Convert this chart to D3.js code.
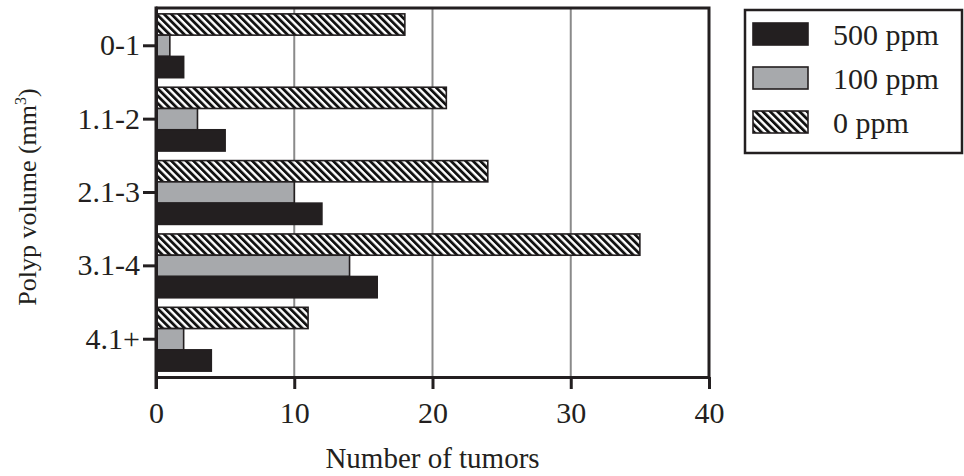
<!DOCTYPE html>
<html>
<head>
<meta charset="utf-8">
<script src="https://cdn.jsdelivr.net/npm/d3@7"></script>
<style>
  html, body { margin: 0; padding: 0; background: #fff; }
  svg { display: block; }
  text { font-family: "Liberation Serif", "Times New Roman", serif; fill: #231f20; }
</style>
</head>
<body>
<svg id="chart" width="964" height="476"></svg>
<script>
// Polyp volume classes (rows, top to bottom)
const categories = ["0-1", "1.1-2", "2.1-3", "3.1-4", "4.1+"];
// Dose groups, drawn top to bottom inside each row
const seriesNames = ["0 ppm", "100 ppm", "500 ppm"];
const legendOrder = ["500 ppm", "100 ppm", "0 ppm"];
// Number of tumors per class
const values0 = [18, 21, 24, 35, 11];
const values100 = [1, 3, 10, 14, 2];
const values500 = [2, 5, 12, 16, 4];
const xTicks = [0, 10, 20, 30, 40];

const seriesValues = { "0 ppm": values0, "100 ppm": values100, "500 ppm": values500 };
const ink = "#231f20";
const fills = { "500 ppm": ink, "100 ppm": "#a7a9ac", "0 ppm": "url(#hatch)" };

const svg = d3.select("#chart");
const plotL = 156, plotR = 709, plotT = 8, plotB = 377;

// Diagonal hatch used by the 0 ppm bars
const defs = svg.append("defs");
const pat = defs.append("pattern")
  .attr("id", "hatch")
  .attr("patternUnits", "userSpaceOnUse")
  .attr("width", 5.2).attr("height", 10)
  .attr("patternTransform", "rotate(-45)");
pat.append("rect").attr("width", 5.2).attr("height", 10).attr("fill", "#fff");
pat.append("rect").attr("width", 2.8).attr("height", 10).attr("fill", "#111");

const x = d3.scaleLinear().domain([0, 40]).range([plotL, plotR]);
const y = d3.scaleBand().domain(categories).range([plotT, plotB])
  .paddingInner(0.13).paddingOuter(0.08);
const ySub = d3.scaleBand().domain(seriesNames).range([0, y.bandwidth()]);

// Vertical grid lines
svg.append("g").selectAll("line")
  .data(xTicks.filter(d => d > 0 && d < 40))
  .join("line")
  .attr("x1", d => x(d)).attr("x2", d => x(d))
  .attr("y1", plotT).attr("y2", plotB)
  .attr("stroke", "#8a8a8a").attr("stroke-width", 2);

// Bars
const rows = categories.map((c, i) => seriesNames.map(s => ({ cat: c, s, v: seriesValues[s][i] })));
svg.append("g").selectAll("g")
  .data(rows)
  .join("g")
  .attr("transform", d => `translate(0,${y(d[0].cat)})`)
  .selectAll("rect")
  .data(d => d)
  .join("rect")
  .attr("x", x(0))
  .attr("y", d => ySub(d.s))
  .attr("width", d => x(d.v) - x(0))
  .attr("height", ySub.bandwidth())
  .attr("fill", d => fills[d.s])
  .attr("stroke", ink)
  .attr("stroke-width", 1.6);

// Frame: top and right edges
svg.append("path")
  .attr("d", `M${plotL},${plotT} H${plotR} V${plotB}`)
  .attr("fill", "none").attr("stroke", ink).attr("stroke-width", 3);

// Axes
const xAxis = svg.append("g")
  .attr("transform", `translate(0,${plotB})`)
  .call(d3.axisBottom(x).tickValues(xTicks).tickSize(12).tickSizeOuter(0).tickPadding(13));
const yAxis = svg.append("g")
  .attr("transform", `translate(${plotL},0)`)
  .call(d3.axisLeft(y).tickSize(13).tickSizeOuter(0).tickPadding(3));

[xAxis, yAxis].forEach(g => {
  g.select(".domain").attr("stroke", ink).attr("stroke-width", 3);
  g.selectAll(".tick line").attr("stroke", ink).attr("stroke-width", 3);
  g.selectAll(".tick text").attr("font-size", 30).attr("fill", ink)
    .style("font-family", '"Liberation Serif", serif');
});
// left axis line runs from the frame top down to the tick ends
svg.append("line").attr("x1", plotL).attr("x2", plotL).attr("y1", plotT - 1.5).attr("y2", plotB + 12)
  .attr("stroke", ink).attr("stroke-width", 3);

// Axis titles
svg.append("text")
  .attr("x", (plotL + plotR) / 2).attr("y", 468)
  .attr("text-anchor", "middle").attr("font-size", 29)
  .text("Number of tumors");

const yt = svg.append("text")
  .attr("transform", `translate(36,197) rotate(-90)`)
  .attr("text-anchor", "middle").attr("font-size", 26);
yt.append("tspan").text("Polyp volume (mm");
yt.append("tspan").attr("font-size", 16).attr("dy", -10).text("3");
yt.append("tspan").attr("dy", 10).text(")");

// Legend
const lg = svg.append("g");
lg.append("rect").attr("x", 745).attr("y", 10).attr("width", 217).attr("height", 143)
  .attr("fill", "#fff").attr("stroke", ink).attr("stroke-width", 2.5);
const items = lg.selectAll("g.item").data(legendOrder).join("g")
  .attr("class", "item")
  .attr("transform", (d, i) => `translate(753,${23 + i * 44})`);
items.append("rect").attr("width", 55).attr("height", 22)
  .attr("fill", d => fills[d]).attr("stroke", ink).attr("stroke-width", 1.6);
items.append("text").attr("x", 80).attr("y", 22).attr("font-size", 30).text(d => d);
</script>
</body>
</html>
